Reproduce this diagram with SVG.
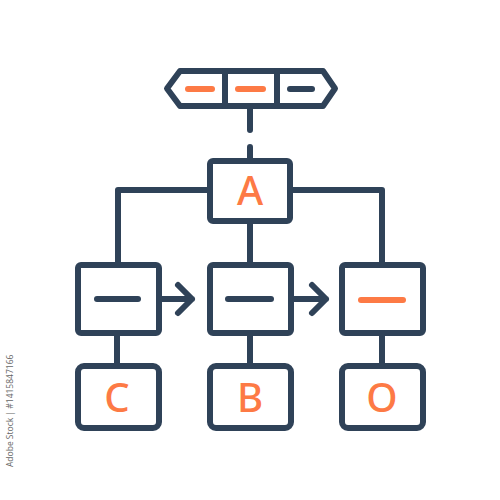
<svg xmlns="http://www.w3.org/2000/svg" width="500" height="500" viewBox="0 0 500 500">
<style>
.ln{fill:none;stroke:#2f4258;stroke-width:6;stroke-linecap:round;stroke-linejoin:round}
.box{fill:#fff;stroke:#2f4258;stroke-width:6;stroke-linejoin:round}
.dn{stroke:#2f4258;stroke-width:6;stroke-linecap:round}
.do{stroke:#fd7a45;stroke-width:6;stroke-linecap:round}
.lt{font-family:"Noto Sans","Lato",sans-serif;font-size:40px;font-weight:500;fill:#fd7a45;text-anchor:middle}
.wm{font-family:"Open Sans","Liberation Sans",sans-serif;font-size:8.5px;fill:#666}
</style>
<rect width="500" height="500" fill="#fff"/>
<g id="connectors">
<path class="ln" d="M250,106 V130 M250,147 V161"/>
<path class="ln" d="M210,190 H118 V265 M290,190 H382 V265"/>
<path class="ln" d="M250,221 V265"/>
<path class="ln" d="M160,299 H192 M178,285 L192,299 L178,313"/>
<path class="ln" d="M292,299 H326 M312,285 L326,299 L312,313"/>
<path class="ln" d="M117,333 V365 M250,333 V365 M382,333 V365"/>
</g>
<g id="topbar">
<path class="box" d="M167,88.5 L180,71 H323 L335,88.5 L323,106 H180 Z"/>
<path class="ln" d="M225,71 V106 M277,71 V106"/>
<line class="do" x1="188" y1="89" x2="212" y2="89"/>
<line class="do" x1="238" y1="89" x2="263" y2="89"/>
<line class="dn" x1="290" y1="89" x2="312" y2="89"/>
</g>
<g id="nodeA">
<rect class="box" x="210" y="161" width="80" height="60" rx="3"/>
<text class="lt" x="250" y="205">A</text>
</g>
<g id="node1">
<rect class="box" x="78" y="265" width="81" height="68" rx="3"/>
<line class="dn" x1="97" y1="299" x2="138" y2="299"/>
</g>
<g id="node2">
<rect class="box" x="210" y="265" width="81" height="68" rx="3"/>
<line class="dn" x1="228" y1="299" x2="271" y2="299"/>
</g>
<g id="node3">
<rect class="box" x="342" y="265" width="81" height="68" rx="3"/>
<line class="do" x1="361" y1="300" x2="403" y2="300"/>
</g>
<g id="nodeC">
<rect class="box" x="78" y="366" width="81" height="62" rx="6"/>
<text class="lt" x="117" y="412">C</text>
</g>
<g id="nodeB">
<rect class="box" x="210" y="366" width="81" height="62" rx="6"/>
<text class="lt" x="250" y="412">B</text>
</g>
<g id="nodeO">
<rect class="box" x="342" y="366" width="81" height="62" rx="6"/>
<text class="lt" x="382" y="412">O</text>
</g>
<text class="wm" transform="translate(13,467) rotate(-90)">Adobe Stock | #1415847166</text>
</svg>
